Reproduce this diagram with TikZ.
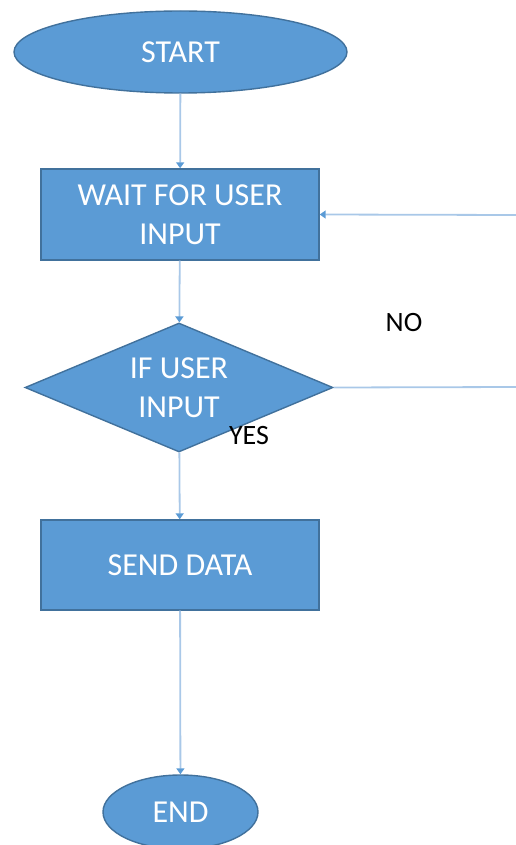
\documentclass[tikz,border=0pt]{standalone}
\usepackage{fontspec}
\setmainfont{Carlito}
\usetikzlibrary{shapes.geometric,arrows.meta}
\definecolor{boxfill}{HTML}{5B9BD5}
\definecolor{boxline}{HTML}{41719C}
\definecolor{connline}{HTML}{A9C8E8}
\definecolor{tipcol}{HTML}{5B9BD5}
\begin{document}
\begin{tikzpicture}[x=1pt,y=1pt,
  shapebase/.style={fill=boxfill,draw=boxline,line width=1.4pt,text=white,
    font=\fontsize{32}{39}\selectfont,align=center,inner sep=0pt},
  terminal/.style={shapebase,ellipse},
  processbox/.style={shapebase,rectangle},
  decision/.style={shapebase,diamond,aspect=2.39},
  conn/.style={draw=connline,line width=1.8pt},
  arrowconn/.style={conn,-{Triangle[width=8pt,length=6pt,color=tipcol]}},
  lbl/.style={text=black,font=\fontsize{28}{32}\selectfont,inner sep=0pt}]
\useasboundingbox (0,0) rectangle (516,-845);
\node[terminal,minimum width=333pt,minimum height=82pt] (start) at (180.5,-52) {START};
\node[processbox,minimum width=278pt,minimum height=91pt] (wait) at (180,-214.5) {WAIT FOR USER\\INPUT};
\node[decision,minimum width=308pt,minimum height=129pt] (dec) at (179,-387.5) {IF USER\\INPUT};
\node[processbox,minimum width=278pt,minimum height=90pt] (send) at (180,-565) {SEND DATA};
\node[terminal,minimum width=155pt,minimum height=74pt] (end) at (180.5,-812) {END};
\coordinate (noend) at (516,-387);
\coordinate (backstart) at (516,-215);
\node[lbl] (no) at (404,-323) {NO};
\node[lbl] (yes) at (249,-436) {YES};
\draw[arrowconn] (start) -- (wait);
\draw[arrowconn] (wait) -- (dec);
\draw[arrowconn] (dec) -- (send);
\draw[arrowconn] (send) -- (end);
\draw[conn] (dec.east) -- (noend);
\draw[arrowconn] (backstart) -- (wait.east);
\end{tikzpicture}
\end{document}
